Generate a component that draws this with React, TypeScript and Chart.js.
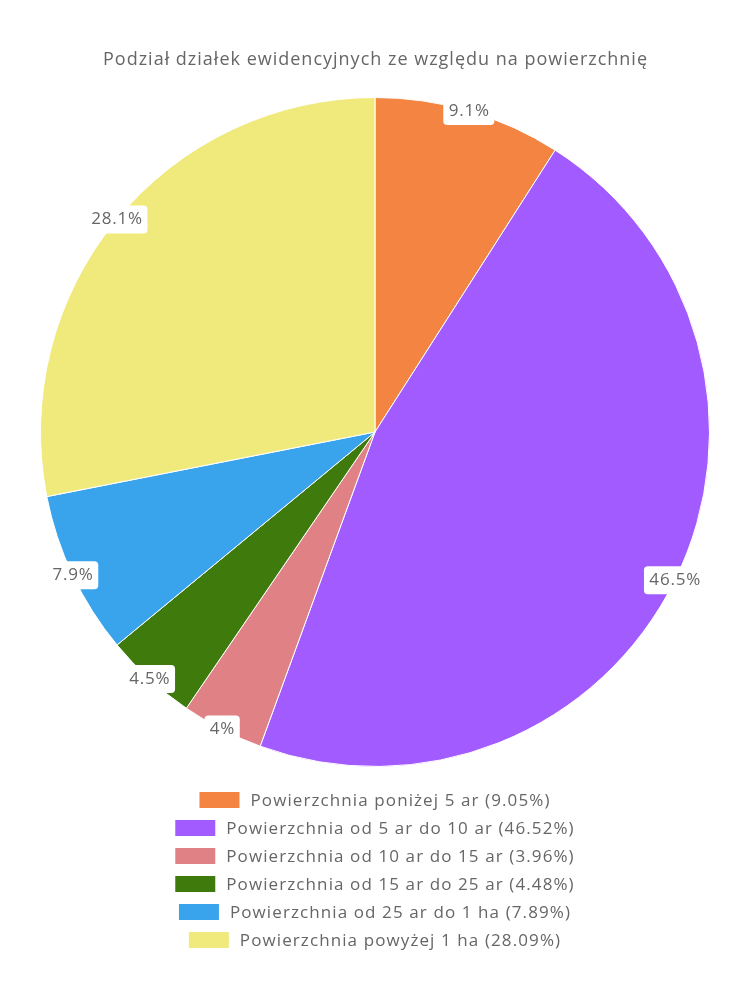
import React, { useEffect, useRef } from "react";
import { Chart, registerables } from "chart.js";

Chart.register(...registerables);

const TITLE = "Podział działek ewidencyjnych ze względu na powierzchnię";
const CATEGORIES = [
  "Powierzchnia poniżej 5 ar",
  "Powierzchnia od 5 ar do 10 ar",
  "Powierzchnia od 10 ar do 15 ar",
  "Powierzchnia od 15 ar do 25 ar",
  "Powierzchnia od 25 ar do 1 ha",
  "Powierzchnia powyżej 1 ha",
];
const VALUES = [9.05, 46.52, 3.96, 4.48, 7.89, 28.09];
const COLORS = ["#F48442", "#A25BFF", "#E08285", "#3F7A0C", "#39A4EB", "#F0EA7C"];

const FONT = "'Open Sans', sans-serif";
const TEXT_COLOR = "#666666";

const titlePlugin = {
  id: "customTitle",
  afterDraw(chart: any) {
    const ctx = chart.ctx;
    const area = chart.chartArea;
    const cx = (area.left + area.right) / 2;
    ctx.save();
    (ctx as any).letterSpacing = "1px";
    ctx.font = `18px ${FONT}`;
    ctx.fillStyle = TEXT_COLOR;
    ctx.textAlign = "center";
    ctx.textBaseline = "middle";
    ctx.fillText(TITLE, cx + 0.5, 52);
    ctx.restore();
  },
};

const sliceLabelPlugin = {
  id: "sliceLabels",
  afterDatasetsDraw(chart: any) {
    const ctx = chart.ctx;
    const meta = chart.getDatasetMeta(0);
    ctx.save();
    (ctx as any).letterSpacing = "0.8px";
    ctx.font = `17px ${FONT}`;
    ctx.textAlign = "center";
    ctx.textBaseline = "middle";
    meta.data.forEach((arc: any, i: number) => {
      const p = arc.getProps(["x", "y", "startAngle", "endAngle", "outerRadius"], true);
      const mid = (p.startAngle + p.endAngle) / 2;
      const px = p.x + Math.cos(mid) * p.outerRadius;
      const py = p.y + Math.sin(mid) * p.outerRadius;
      const text = `${+VALUES[i].toFixed(1)}%`;
      const w = ctx.measureText(text).width + 10;
      const h = 28;
      ctx.fillStyle = "#ffffff";
      ctx.beginPath();
      ctx.roundRect(px - w / 2, py - h / 2, w, h, 4);
      ctx.fill();
      ctx.fillStyle = TEXT_COLOR;
      ctx.fillText(text, px + 0.4, py);
    });
    ctx.restore();
  },
};

const legendPlugin = {
  id: "stackedLegend",
  afterDraw(chart: any) {
    const ctx = chart.ctx;
    const area = chart.chartArea;
    const cx = (area.left + area.right) / 2;
    const startY = area.bottom + 33;
    const rowH = 28;
    const boxW = 40;
    const boxH = 16;
    const gap = 11;
    ctx.save();
    (ctx as any).letterSpacing = "1.1px";
    ctx.font = `17px ${FONT}`;
    ctx.textBaseline = "middle";
    ctx.textAlign = "left";
    CATEGORIES.forEach((cat, i) => {
      const text = `${cat} (${VALUES[i]}%)`;
      const tw = ctx.measureText(text).width;
      const total = boxW + gap + tw;
      const x0 = cx - total / 2;
      const y = startY + i * rowH;
      ctx.fillStyle = COLORS[i];
      ctx.fillRect(x0, y - boxH / 2, boxW, boxH);
      ctx.fillStyle = TEXT_COLOR;
      ctx.fillText(text, x0 + boxW + gap, y + 1);
    });
    ctx.restore();
  },
};

export default function App() {
  const ref = useRef<HTMLCanvasElement | null>(null);
  useEffect(() => {
    if (!ref.current) return;
    const chart = new Chart(ref.current, {
      type: "pie",
      data: {
        labels: CATEGORIES,
        datasets: [
          {
            data: VALUES,
            backgroundColor: COLORS,
            borderColor: "#ffffff",
            borderWidth: 1,
          },
        ],
      },
      options: {
        responsive: false,
        animation: false,
        layout: { padding: { top: 89, bottom: 225, left: 0, right: 0 } },
        plugins: {
          legend: { display: false },
          tooltip: { enabled: false },
          title: { display: false },
        },
      },
      plugins: [sliceLabelPlugin, legendPlugin, titlePlugin],
    });
    return () => chart.destroy();
  }, []);
  return <canvas ref={ref} width={734} height={984} style={{ display: "block" }} />;
}
